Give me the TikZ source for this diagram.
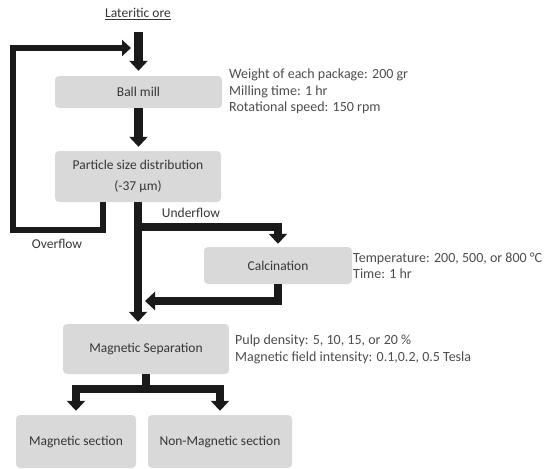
\documentclass[tikz,border=0pt]{standalone}
\usepackage{fontspec}
\setmainfont{Carlito}
\usetikzlibrary{arrows.meta}
\definecolor{boxgray}{HTML}{D9D9D9}
\definecolor{txtgray}{HTML}{363636}
\definecolor{notegray}{HTML}{4D4D4D}
\definecolor{flowblack}{HTML}{1A1A1A}

\begin{document}
\begin{tikzpicture}[x=1pt, y=-1pt,
  every node/.style={font=\fontsize{13.5}{16.5}\selectfont, text=txtgray},
  stage/.style={fill=boxgray, rounded corners=4pt, inner sep=0pt, align=center},
  note/.style={anchor=west, align=left, inner sep=0pt, text=notegray, font=\fontsize{14}{16.5}\selectfont},
  flow/.style={draw=flowblack, line width=8.5pt, -{Triangle[width=18pt,length=10pt]}},
  recycle/.style={draw=flowblack, line width=6.5pt, -{Triangle[width=16pt,length=9pt]}}]
  \useasboundingbox (0,0) rectangle (547,469);

  \node (ore) at (138,14) {\underline{Lateritic ore}};
  \node[stage, minimum width=167pt, minimum height=32pt] (ball) at (138.5,92) {Ball mill};
  \node[stage, minimum width=166pt, minimum height=51pt] (psd) at (138,176.5) {Particle size distribution\\[4.5pt](-37 µm)};
  \node[stage, minimum width=148pt, minimum height=37pt] (calc) at (278,265.5) {Calcination};
  \node[stage, minimum width=166pt, minimum height=50pt] (msep) at (146,349) {Magnetic Separation};
  \node[stage, minimum width=120pt, minimum height=53pt] (mag) at (76,441.5) {Magnetic section};
  \node[stage, minimum width=144pt, minimum height=53pt] (nonmag) at (220,441.5) {Non-Magnetic section};

  \node[note] (ballnote) at (229,91.5) {Weight of each package: 200 gr\\Milling time: 1 hr\\Rotational speed: 150 rpm};
  \node[note] (calcnote) at (353,266) {Temperature: 200, 500, or 800 °C\\Time: 1 hr};
  \node[note] (msepnote) at (235,349.5) {Pulp density: 5, 10, 15, or 20 \%\\Magnetic field intensity: 0.1,0.2, 0.5 Tesla};

  \node (under) at (191,213) {Underflow};
  \node (over) at (57,244) {Overflow};

  \coordinate (orestart) at (138.5,32);
  \coordinate (fbcorner) at (13,230);
  \coordinate (fbtip) at (131,48);
  \coordinate (rejoin) at (145,301);

  \draw[flow, shorten >=5pt] (orestart) -- (orestart |- ball.north);
  \draw[flow, shorten >=4pt] (ball.south) -- (ball.south |- psd.north);
  \draw[flow, shorten >=2pt] (psd.south) -- (psd.south |- msep.north);
  \draw[flow, shorten >=3pt] ([yshift=-25pt]psd.south) -| (calc.north);
  \draw[flow] (calc.south) |- (rejoin);
  \draw[recycle] ([xshift=-35pt]psd.south) |- (fbcorner) |- (fbtip);
  \draw[flow, shorten >=4pt] (msep.south) -- ++(0,15) -| (mag.north);
  \draw[flow, shorten >=4pt] (msep.south) -- ++(0,15) -| (nonmag.north);
\end{tikzpicture}
\end{document}
